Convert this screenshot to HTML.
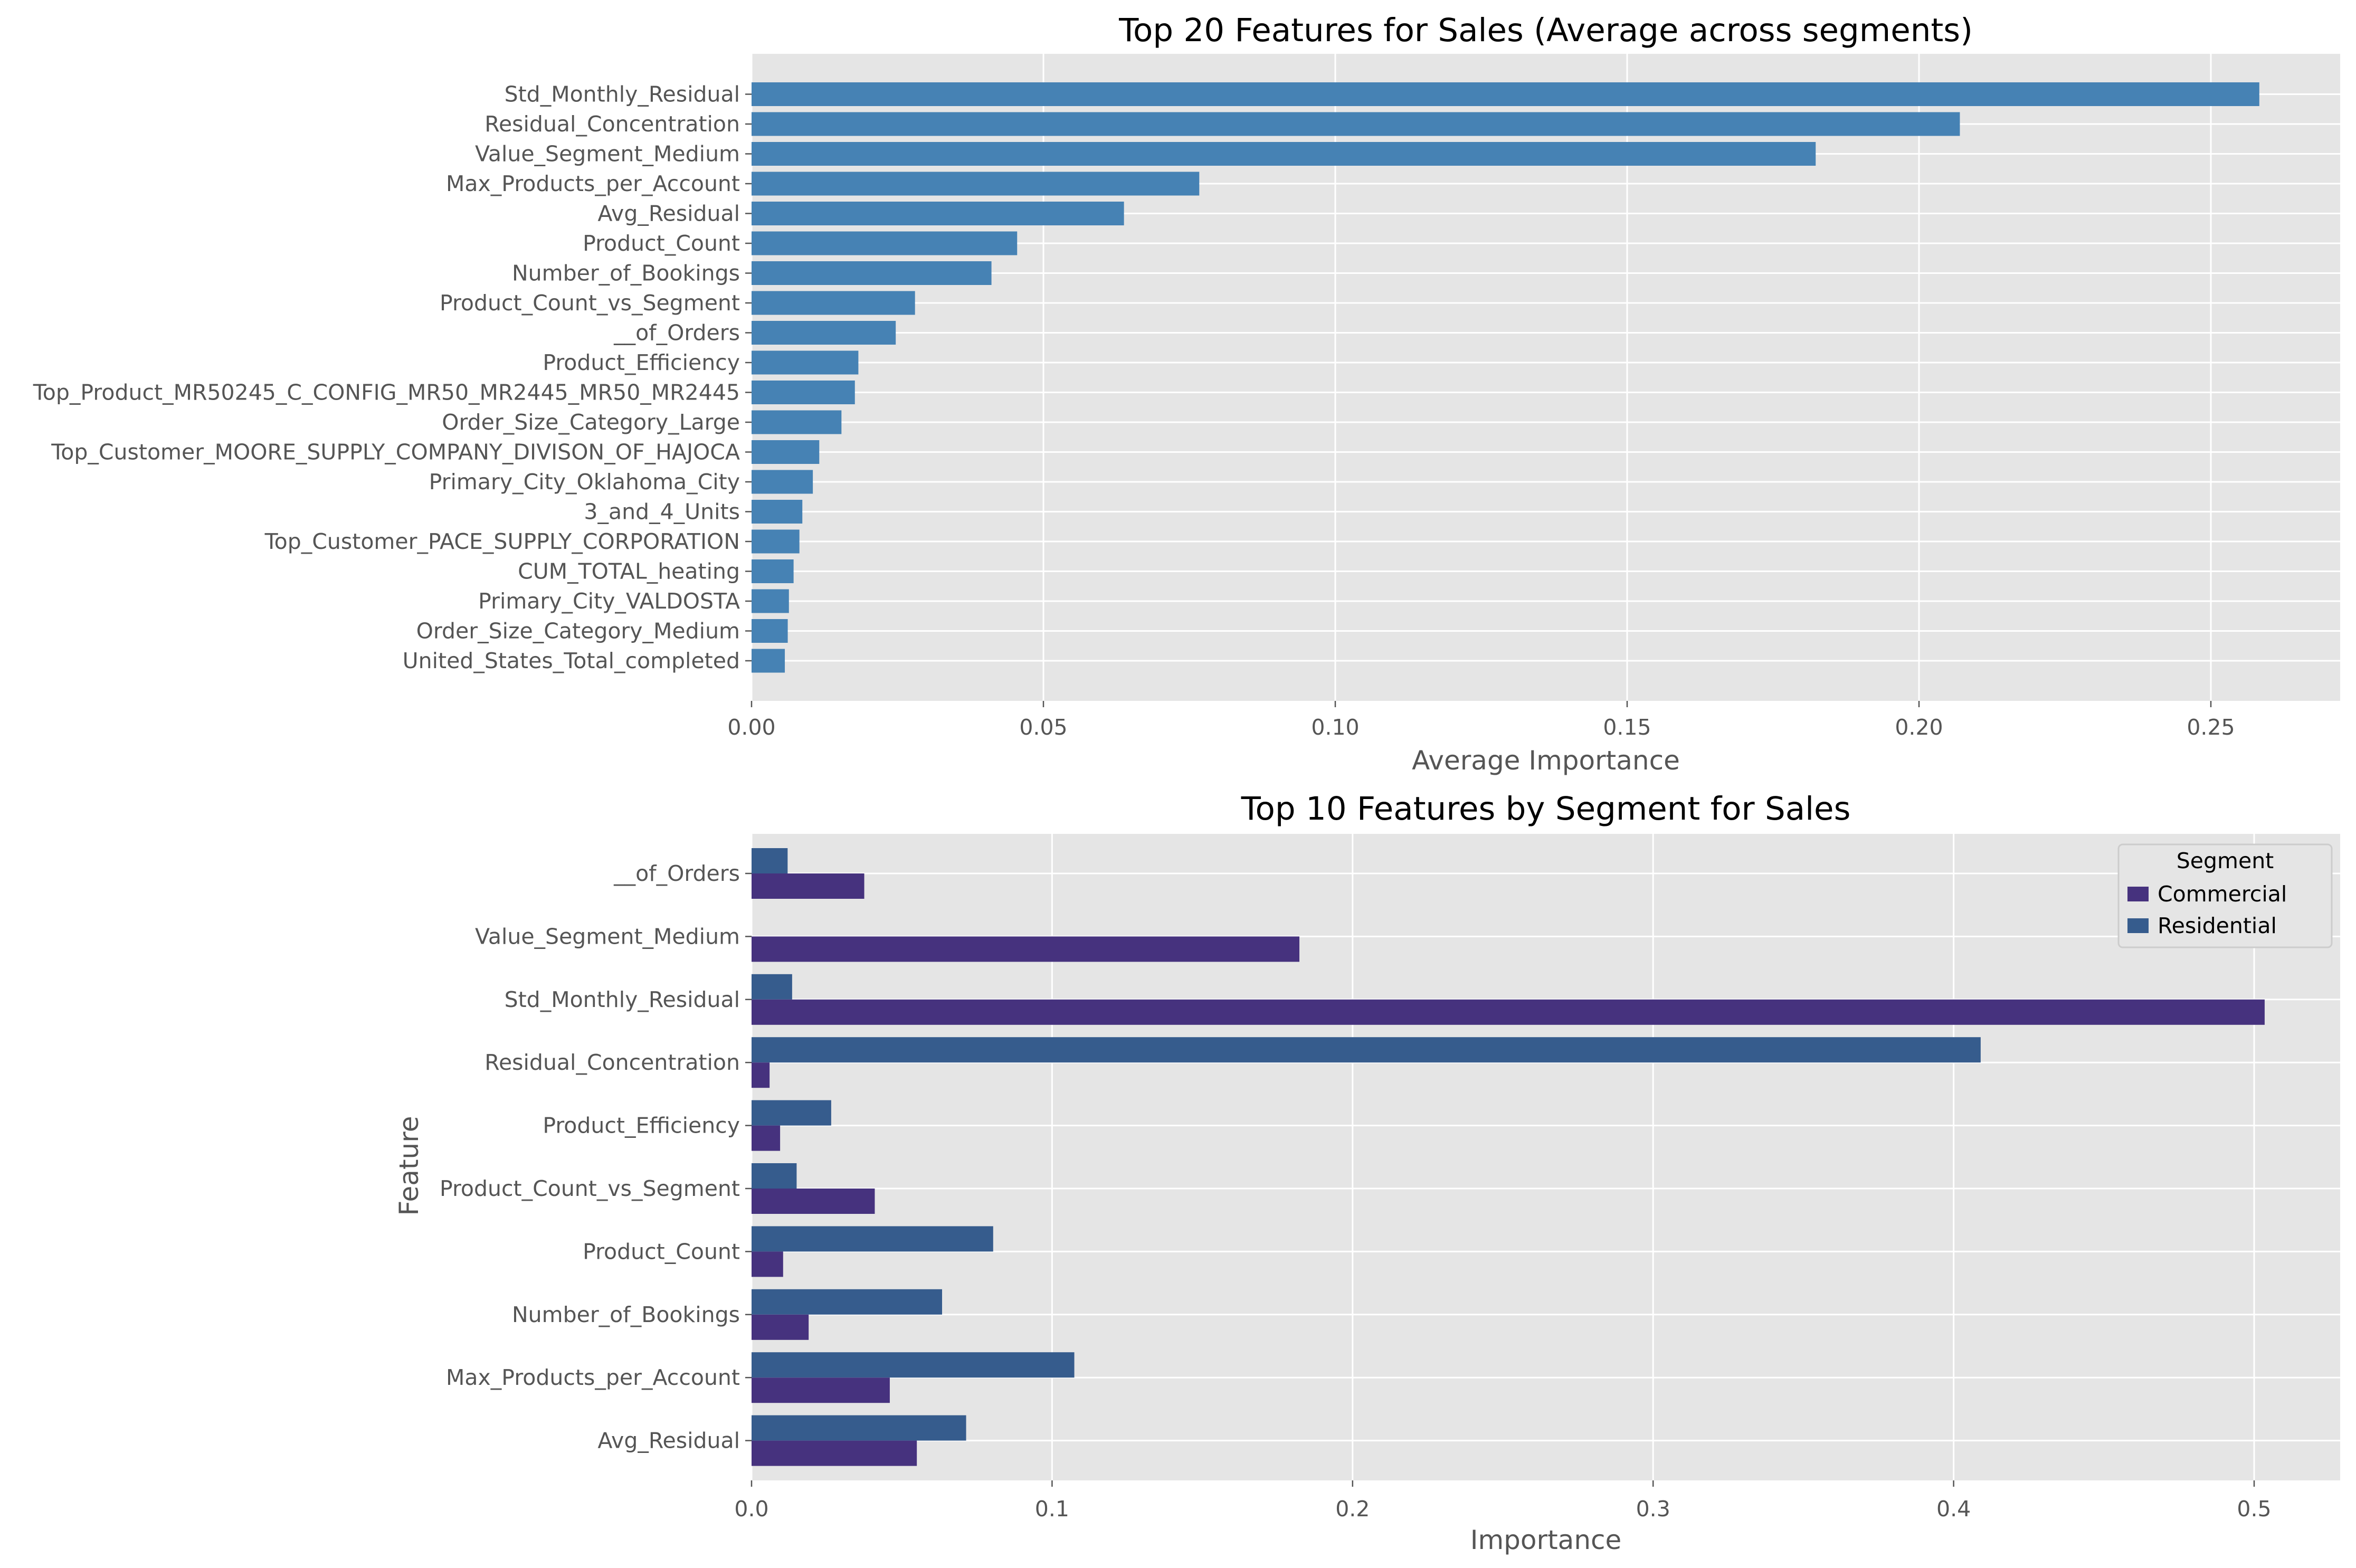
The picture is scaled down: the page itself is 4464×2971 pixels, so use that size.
<!DOCTYPE html>
<html><head><meta charset="utf-8"><style>
html,body{margin:0;padding:0;background:#fff}
svg{display:block;font-family:"DejaVu Sans","Liberation Sans",sans-serif}
</style></head><body>
<svg id="c" width="4464" height="2971" viewBox="0 0 4464 2971" xmlns="http://www.w3.org/2000/svg"></svg>
<script>
const topFeatures=["Std_Monthly_Residual","Residual_Concentration","Value_Segment_Medium","Max_Products_per_Account","Avg_Residual","Product_Count","Number_of_Bookings","Product_Count_vs_Segment","__of_Orders","Product_Efficiency","Top_Product_MR50245_C_CONFIG_MR50_MR2445_MR50_MR2445","Order_Size_Category_Large","Top_Customer_MOORE_SUPPLY_COMPANY_DIVISON_OF_HAJOCA","Primary_City_Oklahoma_City","3_and_4_Units","Top_Customer_PACE_SUPPLY_CORPORATION","CUM_TOTAL_heating","Primary_City_VALDOSTA","Order_Size_Category_Medium","United_States_Total_completed"];
const topValues=[0.2583,0.2070,0.1823,0.0767,0.0638,0.0455,0.0411,0.0280,0.0247,0.0183,0.0177,0.0154,0.0116,0.0105,0.0087,0.0082,0.0072,0.0064,0.0062,0.0057];
const topTicks=[0,0.05,0.10,0.15,0.20,0.25];
const topTickLabels=["0.00","0.05","0.10","0.15","0.20","0.25"];
const segFeatures=["__of_Orders","Value_Segment_Medium","Std_Monthly_Residual","Residual_Concentration","Product_Efficiency","Product_Count_vs_Segment","Product_Count","Number_of_Bookings","Max_Products_per_Account","Avg_Residual"];
const commercialValues=[0.0375,0.1823,0.5035,0.006,0.0095,0.041,0.0105,0.019,0.046,0.055];
const residentialValues=[0.012,0,0.0135,0.409,0.0265,0.015,0.0804,0.0634,0.1074,0.0714];
const segTicks=[0,0.1,0.2,0.3,0.4,0.5];
const segTickLabels=["0.0","0.1","0.2","0.3","0.4","0.5"];

const svg=document.getElementById('c');
const NS="http://www.w3.org/2000/svg";
function mk(tag,attrs,text){const e=document.createElementNS(NS,tag);for(const k in attrs)e.setAttribute(k,attrs[k]);if(text!==undefined)e.textContent=text;svg.appendChild(e);return e;}
const FS=41;

// ---- Top chart ----
const T={l:1424,r:4434,t:102,b:1328};
const xTop=v=>T.l+v/0.05*553;
const yTop=i=>178.5+i*56.5;
let e=mk('rect',{x:T.l,y:T.t,width:T.r-T.l,height:T.b-T.t,fill:'#E5E5E5'});


topTicks.forEach((t,i)=>{
  const x=xTop(t);
  let g=mk('line',{x1:x,x2:x,y1:T.t,y2:T.b,stroke:'#fff','stroke-width':3});
  
  
  mk('line',{x1:x,x2:x,y1:T.b,y2:T.b+12,stroke:'#555','stroke-width':2.5});
  let l=mk('text',{x:x,y:1392,'font-size':FS,fill:'#555','text-anchor':'middle'},topTickLabels[i]);
  
  
});
topFeatures.forEach((f,i)=>{
  const y=yTop(i);
  let g=mk('line',{x1:T.l,x2:T.r,y1:y,y2:y,stroke:'#fff','stroke-width':3});
  
  
});
topFeatures.forEach((f,i)=>{
  const y=yTop(i);
  let b=mk('rect',{x:T.l,y:y-22.5,width:xTop(topValues[i])-T.l,height:45,fill:'#4682B4'});
  
  
  mk('line',{x1:T.l-12,x2:T.l,y1:y,y2:y,stroke:'#555','stroke-width':2.5});
  let l=mk('text',{x:T.l-22,y:y+14,'font-size':FS,fill:'#555','text-anchor':'end'},f);
  
  
});
e=mk('text',{x:(T.l+T.r)/2,y:1458,'font-size':50,fill:'#555','text-anchor':'middle'},'Average Importance');


e=mk('text',{x:(T.l+T.r)/2,y:78,'font-size':61,fill:'#000','text-anchor':'middle'},'Top 20 Features for Sales (Average across segments)');



// ---- Bottom chart ----
const B={l:1424,r:4434,t:1580,b:2805};
const xSeg=v=>B.l+v/0.1*569.4;
const step=119.4;
const ySeg=i=>1655+step*i;
e=mk('rect',{x:B.l,y:B.t,width:B.r-B.l,height:B.b-B.t,fill:'#E5E5E5'});


segTicks.forEach((t,i)=>{
  const x=xSeg(t);
  let g=mk('line',{x1:x,x2:x,y1:B.t,y2:B.b,stroke:'#fff','stroke-width':3});
  
  
  mk('line',{x1:x,x2:x,y1:B.b,y2:B.b+12,stroke:'#555','stroke-width':2.5});
  let l=mk('text',{x:x,y:2873,'font-size':FS,fill:'#555','text-anchor':'middle'},segTickLabels[i]);
  
  
});
segFeatures.forEach((f,i)=>{
  const y=ySeg(i);
  let g=mk('line',{x1:B.l,x2:B.r,y1:y,y2:y,stroke:'#fff','stroke-width':3});
  
  
});
const bh=48;
segFeatures.forEach((f,i)=>{
  const y=ySeg(i);
  const key=f.toLowerCase().replace(/_+/g,'-');
  let r=mk('rect',{x:B.l,y:y-bh,width:xSeg(residentialValues[i])-B.l,height:bh,fill:'#365C8D'});
  
  
  let c=mk('rect',{x:B.l,y:y,width:xSeg(commercialValues[i])-B.l,height:bh,fill:'#46327E'});
  
  
  mk('line',{x1:B.l-12,x2:B.l,y1:y,y2:y,stroke:'#555','stroke-width':2.5});
  let l=mk('text',{x:B.l-22,y:y+14,'font-size':FS,fill:'#555','text-anchor':'end'},f);
  
  
});
e=mk('text',{x:(B.l+B.r)/2,y:2935,'font-size':50,fill:'#555','text-anchor':'middle'},'Importance');


e=mk('text',{x:792,y:2209,'font-size':50,fill:'#555','text-anchor':'middle',transform:'rotate(-90 792 2209)'},'Feature');


e=mk('text',{x:(B.l+B.r)/2,y:1553,'font-size':61,fill:'#000','text-anchor':'middle'},'Top 10 Features by Segment for Sales');



// legend
e=mk('rect',{x:4014,y:1600,width:404,height:195,rx:8,fill:'#E5E5E5',stroke:'#ccc','stroke-width':3});


e=mk('text',{x:4216,y:1645,'font-size':FS,fill:'#000','text-anchor':'middle'},'Segment');


e=mk('rect',{x:4031,y:1680,width:40,height:28,fill:'#46327E'});


e=mk('text',{x:4088,y:1708,'font-size':FS,fill:'#000'},'Commercial');


e=mk('rect',{x:4031,y:1740,width:40,height:28,fill:'#365C8D'});


e=mk('text',{x:4088,y:1768,'font-size':FS,fill:'#000'},'Residential');


</script>
</body></html>
